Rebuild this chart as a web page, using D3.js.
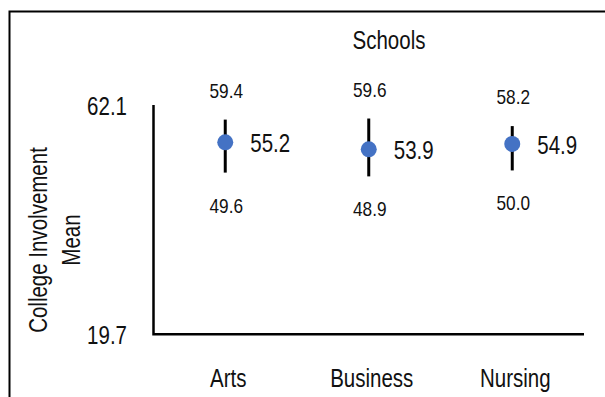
<!DOCTYPE html>
<html>
<head>
<meta charset="utf-8">
<script src="https://cdn.jsdelivr.net/npm/d3@7"></script>
<style>
  html, body { margin: 0; padding: 0; background: #fff; }
  svg { display: block; }
  text { font-family: "Liberation Sans", Arial, sans-serif; fill: #111; }
</style>
</head>
<body>
<svg id="chart" width="605" height="397"></svg>
<script>
// Mean college involvement by school, with lower / upper bounds
const schools = ["Arts", "Business", "Nursing"];
const means   = [55.2, 53.9, 54.9];
const upper   = [59.4, 59.6, 58.2];
const lower   = [49.6, 48.9, 50.0];
const yTicks  = [19.7, 62.1];

// condensed look: squeeze glyphs horizontally
const NARROW = 0.82;
const place = (px, py) => `translate(${px},${py}) scale(${NARROW},1)`;

const svg = d3.select("#chart");

// outer frame (top and left edges only)
svg.append("path")
  .attr("d", "M9.5,397 V11.5 H605")
  .attr("fill", "none")
  .attr("stroke", "#000")
  .attr("stroke-width", 2);

const x = d3.scaleBand().domain(schools).range([153.5, 584]).padding(0);
const y = d3.scaleLinear().domain([yTicks[0], yTicks[1]]).range([334.3, 105]);

// axes lines
svg.append("path")
  .attr("d", `M${x.range()[0]},${y(yTicks[1])} V${y(yTicks[0])} H${x.range()[1]}`)
  .attr("fill", "none")
  .attr("stroke", "#000")
  .attr("stroke-width", 2.5);

// y tick labels
svg.selectAll(".ytick").data(yTicks).enter().append("text")
  .attr("class", "ytick")
  .attr("transform", d => place(127, y(d) + 10))
  .attr("text-anchor", "end")
  .attr("font-size", 25)
  .text(d => d.toFixed(1));

// category labels
svg.selectAll(".xlab").data(schools).enter().append("text")
  .attr("class", "xlab")
  .attr("transform", d => place(x(d) + x.bandwidth() / 2 + 3, 387))
  .attr("text-anchor", "middle")
  .attr("font-size", 25)
  .text(d => d);

// title
svg.append("text")
  .attr("transform", place(389, 49))
  .attr("text-anchor", "middle")
  .attr("font-size", 25)
  .text("Schools");

// y axis title (two lines, rotated)
const yt = svg.append("g").attr("transform", "translate(0,240) rotate(-90)");
yt.append("text").attr("transform", place(0, 47)).attr("text-anchor", "middle")
  .attr("font-size", 25).text("College Involvement");
yt.append("text").attr("transform", place(0, 80)).attr("text-anchor", "middle")
  .attr("font-size", 25).text("Mean");

const rows = schools.map((s, i) => ({ s, m: means[i], hi: upper[i], lo: lower[i] }));
const cx = d => x(d.s) + x.bandwidth() / 2;

const g = svg.append("g");

// error bars
g.selectAll(".err").data(rows).enter().append("line")
  .attr("class", "err")
  .attr("x1", cx).attr("x2", cx)
  .attr("y1", d => y(d.hi)).attr("y2", d => y(d.lo))
  .attr("stroke", "#000")
  .attr("stroke-width", 3);

// mean points
g.selectAll(".pt").data(rows).enter().append("circle")
  .attr("class", "pt")
  .attr("cx", cx)
  .attr("cy", d => y(d.m))
  .attr("r", 8)
  .attr("fill", "#4472C4");

// labels
g.selectAll(".hi").data(rows).enter().append("text")
  .attr("transform", d => place(cx(d) + 1, y(d.hi) - 22))
  .attr("text-anchor", "middle")
  .attr("font-size", 21)
  .text(d => d.hi.toFixed(1));

g.selectAll(".lo").data(rows).enter().append("text")
  .attr("transform", d => place(cx(d) + 1, y(d.lo) + 40))
  .attr("text-anchor", "middle")
  .attr("font-size", 21)
  .text(d => d.lo.toFixed(1));

g.selectAll(".mean").data(rows).enter().append("text")
  .attr("transform", d => place(cx(d) + 25, y(d.m) + 10))
  .attr("text-anchor", "start")
  .attr("font-size", 25)
  .text(d => d.m.toFixed(1));
</script>
</body>
</html>
